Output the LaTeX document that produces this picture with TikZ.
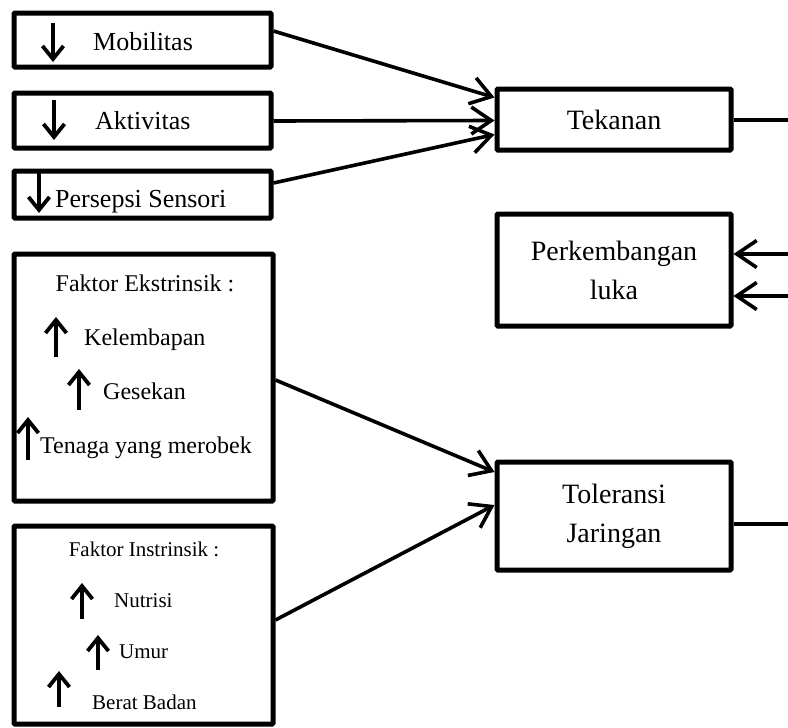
\documentclass[tikz,border=0pt]{standalone}
\usepackage{fontspec}
\setmainfont{Liberation Serif}
\usetikzlibrary{arrows.meta,calc}
\begin{document}
\begin{tikzpicture}[x=1pt,y=-1pt,
  box/.style={draw,line width=5pt,rounded corners=1pt,inner sep=0pt},
  bigtxt/.style={font=\fontsize{28}{39}\selectfont,align=center},
  conn/.style={line width=3.6pt,-{Straight Barb[length=20pt,width=27pt,line width=3.6pt]}},
  plainconn/.style={line width=3.6pt},
  smallarr/.style={line width=4.2pt,-{Straight Barb[length=13pt,width=21pt,line width=3.8pt]}},
  ta/.style={inner sep=0pt,anchor=base west,font=\fontsize{26}{30}\selectfont},
  tb/.style={inner sep=0pt,anchor=base west,font=\fontsize{24}{28}\selectfont},
  tc/.style={inner sep=0pt,anchor=base west,font=\fontsize{21}{25}\selectfont}
]
\useasboundingbox (0,0) rectangle (788,728);
% left boxes
\node[box,minimum width=257pt,minimum height=54pt] (mob) at (142.5,40) {};
\node[box,minimum width=257pt,minimum height=55pt] (akt) at (142.5,120.5) {};
\node[box,minimum width=257pt,minimum height=47pt] (pers) at (142.5,194.5) {};
\node[box,minimum width=259pt,minimum height=247pt] (eks) at (143.5,377.5) {};
\node[box,minimum width=259pt,minimum height=198pt] (ins) at (143.5,625) {};
% right boxes
\node[box,bigtxt,minimum width=234pt,minimum height=61pt] (tek) at (614,119.5) {Tekanan};
\node[box,bigtxt,minimum width=234pt,minimum height=112pt] (pkl) at (614,270) {Perkembangan\\luka};
\node[box,bigtxt,minimum width=234pt,minimum height=108pt] (tol) at (614,516) {Toleransi\\Jaringan};
% texts in left boxes
\node[ta] (tmob) at (93,50) {Mobilitas};
\node[ta] (takt) at (95,129) {Aktivitas};
\node[ta] (tpers) at (55,207) {Persepsi Sensori};
\node[tb,anchor=base] (teks) at (145,291) {Faktor Ekstrinsik :};
\node[tb] (tkel) at (84,345) {Kelembapan};
\node[tb] (tges) at (103,399) {Gesekan};
\node[tb] (tten) at (40,453) {Tenaga yang merobek};
\node[tc,anchor=base] (tins) at (144,556) {Faktor Instrinsik :};
\node[tc] (tnut) at (114,607) {Nutrisi};
\node[tc] (tumr) at (119,658) {Umur};
\node[tc] (tber) at (92,709) {Berat Badan};
% small arrows
\draw[smallarr] (53,23) -- (53,62);
\draw[smallarr] (54,100) -- (54,140);
\draw[smallarr] (39,173) -- (39,213);
\draw[smallarr] (56,357) -- (56,317);
\draw[smallarr] (79,410) -- (79,369);
\draw[smallarr] (28,460) -- (28,417);
\draw[smallarr] (82,619) -- (82,583);
\draw[smallarr] (98,670) -- (98,635);
\draw[smallarr] (59,707) -- (59,671);
% connectors
\draw[conn] ([yshift=9pt]mob.east) -- ([yshift=22pt]tek.west);
\draw[conn] ([yshift=-0.5pt]akt.east) -- ([yshift=-1pt]tek.west);
\draw[conn] ([yshift=11.5pt]pers.east) -- ([yshift=-15pt]tek.west);
\draw[conn] ([yshift=-2.5pt]eks.east) -- ([yshift=44pt]tol.west);
\draw[conn] ([yshift=5pt]ins.east) -- ([yshift=11pt]tol.west);
\coordinate (tekR) at (788,120);
\coordinate (pklR1) at (788,254);
\coordinate (pklR2) at (788,296);
\coordinate (tolR) at (788,524);
\draw[plainconn] ([yshift=-0.5pt]tek.east) -- (tekR);
\draw[conn] (pklR1) -- ([yshift=16pt]pkl.east);
\draw[conn] (pklR2) -- ([yshift=-26pt]pkl.east);
\draw[plainconn] ([yshift=-8pt]tol.east) -- (tolR);
\end{tikzpicture}
\end{document}
